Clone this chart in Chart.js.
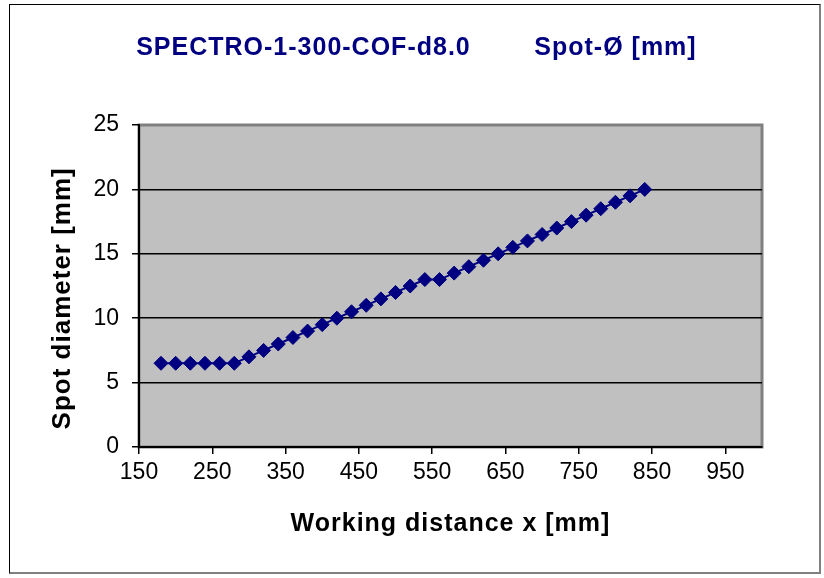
<!DOCTYPE html>
<html>
<head>
<meta charset="utf-8">
<script src="https://cdn.jsdelivr.net/npm/chart.js@4"></script>
<style>
  html, body { margin: 0; padding: 0; background: #fff; }
  #wrap { position: relative; width: 824px; height: 578px; }
  #frame {
    position: absolute; left: 9px; top: 4px; width: 812px; height: 570px;
    box-sizing: border-box; pointer-events: none;
    border-left: 1px solid #000; border-top: 1px solid #000;
    border-right: 2px solid #808080; border-bottom: 2px solid #808080;
  }
  canvas { position: absolute; left: 0; top: 0; }
</style>
</head>
<body>
<div id="wrap">
  <canvas id="chart" width="824" height="578"></canvas>
  <div id="frame"></div>
</div>
<script>
// Daten
const xValues = [180, 200, 220, 240, 260, 280, 300, 320, 340, 360, 380, 400, 420, 440, 460, 480, 500,
                 520, 540, 560, 580, 600, 620, 640, 660, 680, 700, 720, 740, 760, 780, 800, 820, 840];
const spotDiameter = [6.5, 6.5, 6.5, 6.5, 6.5, 6.5, 7, 7.5, 8, 8.5, 9, 9.5, 10, 10.5, 11, 11.5, 12,
                      12.5, 13, 13, 13.5, 14, 14.5, 15, 15.5, 16, 16.5, 17, 17.5, 18, 18.5, 19, 19.5, 20];
const xTicks = [150, 250, 350, 450, 550, 650, 750, 850, 950];
const yTicks = [0, 5, 10, 15, 20, 25];

const FONT = "'Liberation Sans', Arial, sans-serif";
const NAVY = '#000080';

// grauer Plotbereich + etwas breitere Schrift fuer die fetten Titel
const plotArea = {
    id: 'plotArea',
    beforeDraw(chart) {
        const { ctx, chartArea: a } = chart;
        ctx.save();
        ctx.fillStyle = '#c0c0c0';
        ctx.fillRect(a.left, a.top, a.right - a.left, a.bottom - a.top);
        ctx.strokeStyle = '#808080';
        ctx.lineWidth = 3;
        ctx.strokeRect(a.left, a.top, a.right - a.left, a.bottom - a.top);
        ctx.restore();
        ctx.letterSpacing = '1px';
    },
    beforeDatasetsDraw(chart) {
        chart.ctx.letterSpacing = '0px';
    }
};

const data = xValues.map((x, i) => ({ x: x, y: spotDiameter[i] }));

new Chart(document.getElementById('chart'), {
    type: 'scatter',
    data: {
        datasets: [{
            data: data,
            showLine: true,
            borderColor: NAVY,
            borderWidth: 2,
            backgroundColor: NAVY,
            pointStyle: 'rectRot',
            pointRadius: 7,
            pointBorderWidth: 1,
            pointBorderColor: NAVY,
            pointBackgroundColor: NAVY
        }]
    },
    options: {
        responsive: false,
        animation: false,
        layout: { padding: { left: 47, right: 62, top: 0, bottom: 39 } },
        plugins: {
            legend: { display: false },
            tooltip: { enabled: false },
            title: {
                display: true,
                text: '   SPECTRO-1-300-COF-d8.0        Spot-Ø [mm]',
                color: NAVY,
                font: { family: FONT, size: 25, weight: 'bold' },
                padding: { top: 33, bottom: 62 }
            }
        },
        scales: {
            x: {
                type: 'linear',
                min: 150,
                max: 1000,
                afterBuildTicks: (scale) => { scale.ticks = xTicks.map(v => ({ value: v })); },
                afterFit: (scale) => { scale.height = 92; },
                grid: { drawOnChartArea: false, drawTicks: true, tickLength: 7, tickColor: '#000', lineWidth: 1.5 },
                border: { display: true, color: '#000', width: 2 },
                ticks: { color: '#000', font: { family: FONT, size: 23 }, padding: 5, maxRotation: 0, z: 1 },
                title: {
                    display: true,
                    text: 'Working distance x [mm]',
                    color: '#000',
                    font: { family: FONT, size: 25, weight: 'bold' },
                    padding: 0
                }
            },
            y: {
                min: 0,
                max: 25,
                afterBuildTicks: (scale) => { scale.ticks = yTicks.map(v => ({ value: v })); },
                afterFit: (scale) => { scale.width = 92; },
                grid: {
                    color: (c) => (c.tick && (c.tick.value === 0 || c.tick.value === 25)) ? 'rgba(0,0,0,0)' : '#000',
                    tickColor: '#000',
                    tickLength: 7,
                    lineWidth: 1.5
                },
                border: { display: true, color: '#000', width: 2 },
                ticks: { color: '#000', font: { family: FONT, size: 23 }, padding: 13, z: 1 },
                title: {
                    display: true,
                    text: 'Spot diameter [mm]   ',
                    color: '#000',
                    font: { family: FONT, size: 26, weight: 'bold' },
                    padding: 0
                }
            }
        }
    },
    plugins: [plotArea]
});
</script>
</body>
</html>
